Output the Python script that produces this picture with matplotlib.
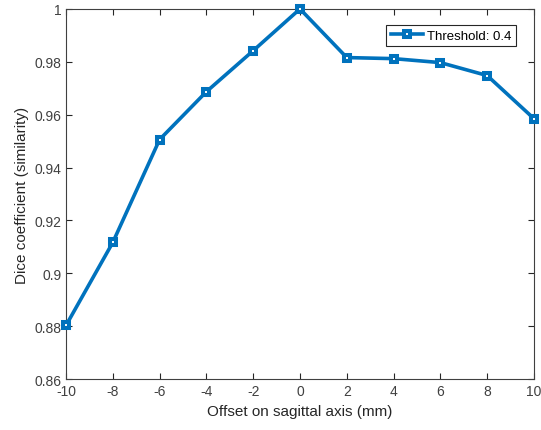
import matplotlib
matplotlib.use('Agg')
import matplotlib.pyplot as plt

# Dữ liệu
offsets = [-10, -8, -6, -4, -2, 0, 2, 4, 6, 8, 10]
dice = [0.8803, 0.9117, 0.9506, 0.9687, 0.9842, 1.0, 0.9816, 0.9812, 0.9797, 0.9748, 0.9585]
x_ticks = [-10, -8, -6, -4, -2, 0, 2, 4, 6, 8, 10]
y_ticks = [0.86, 0.88, 0.9, 0.92, 0.94, 0.96, 0.98, 1.0]
y_labels = ['0.86', '0.88', '0.9', '0.92', '0.94', '0.96', '0.98', '1']

plt.rcParams['font.family'] = ['Liberation Sans', 'DejaVu Sans']
plt.rcParams['axes.unicode_minus'] = False

fig = plt.figure(figsize=(5.41, 4.31), dpi=100)
ax = fig.add_axes([0.122, 0.118, 0.865, 0.859])

ax.plot(offsets, dice, color='#0072BD', linewidth=2.6, marker='s', markersize=4.6,
        markerfacecolor='white', markeredgecolor='#0072BD', markeredgewidth=2.9,
        label='Threshold: 0.4', clip_on=False, zorder=3)

ax.set_xlim(-10, 10)
ax.set_ylim(0.86, 1.0)
ax.set_xticks(x_ticks)
ax.set_yticks(y_ticks)
ax.set_yticklabels(y_labels)
ax.tick_params(direction='in', top=True, right=True, length=4, width=0.8,
               colors='#262626', labelsize=10, labelcolor='#404040')
for s in ax.spines.values():
    s.set_color('#404040')
    s.set_linewidth(0.8)

ax.set_xlabel('Offset on sagittal axis (mm)', fontsize=11, color='#262626')
ax.set_ylabel('Dice coefficient (similarity)', fontsize=11, color='#262626')

leg = ax.legend(loc='upper right', fontsize=9.5, fancybox=False, framealpha=1,
                edgecolor='#262626', handlelength=2.4, borderpad=0.35,
                handletextpad=0.3, bbox_to_anchor=(0.975, 0.975))
leg.get_frame().set_linewidth(0.8)

fig.savefig('out.png', dpi=100)
